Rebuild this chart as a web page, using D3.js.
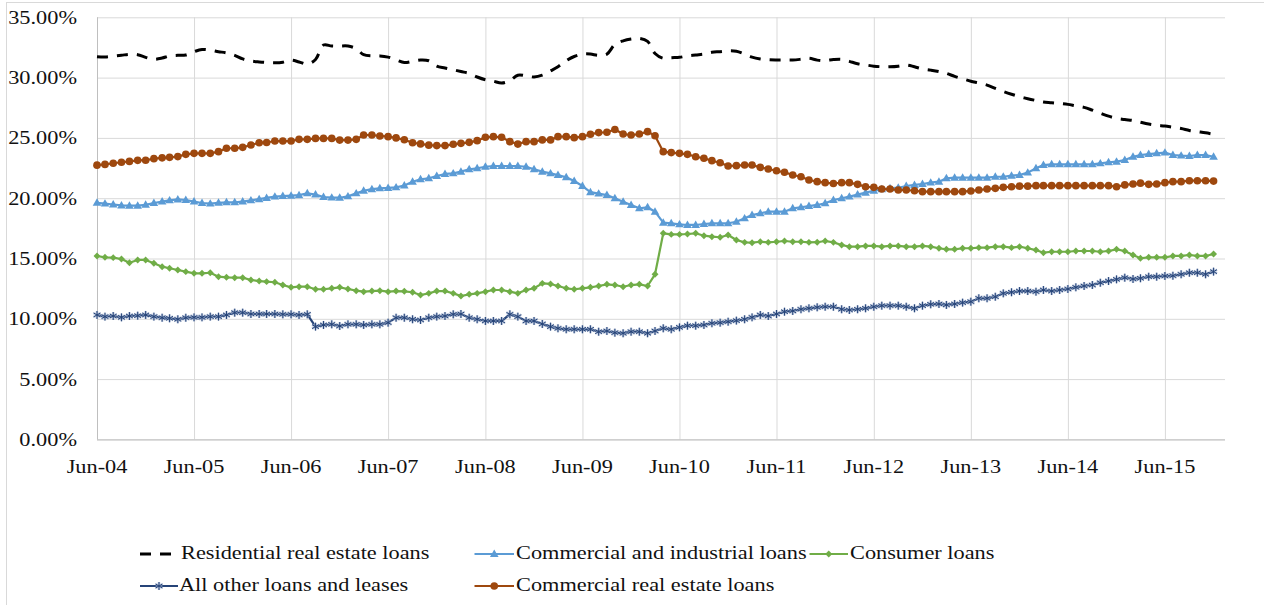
<!DOCTYPE html>
<html><head><meta charset="utf-8">
<script src="https://cdn.jsdelivr.net/npm/d3@7"></script>
<style>body{margin:0;background:#fff;}svg{display:block}</style>
</head><body>
<svg id="chart" width="1264" height="605"></svg>
<script>
// ---------- data (monthly, Jun-04 .. Dec-15, percent) ----------
const seriesNames = ["Residential real estate loans","Commercial and industrial loans","Consumer loans","All other loans and leases","Commercial real estate loans"];
const xTickLabels = ["Jun-04","Jun-05","Jun-06","Jun-07","Jun-08","Jun-09","Jun-10","Jun-11","Jun-12","Jun-13","Jun-14","Jun-15"];
const yTicks = [0,5,10,15,20,25,30,35];

const residential = [31.73,31.70,31.78,31.85,31.93,31.90,31.68,31.52,31.62,31.80,
31.85,31.88,32.15,32.33,32.28,32.15,32.05,31.85,31.55,31.38,
31.30,31.25,31.23,31.28,31.45,31.30,31.12,31.50,32.70,32.62,
32.62,32.62,32.40,31.90,31.80,31.80,31.70,31.48,31.25,31.35,
31.46,31.40,30.95,30.80,30.65,30.50,30.35,30.05,29.82,29.70,
29.55,29.75,30.20,30.15,30.05,30.20,30.55,30.90,31.40,31.75,
31.95,31.95,31.85,31.95,32.75,33.05,33.20,33.25,33.00,32.00,
31.60,31.65,31.68,31.80,31.88,31.95,32.10,32.15,32.22,32.18,
31.95,31.70,31.55,31.48,31.46,31.46,31.46,31.52,31.60,31.45,
31.40,31.50,31.52,31.35,31.15,31.05,30.95,30.90,30.90,30.95,
31.05,30.90,30.72,30.62,30.50,30.35,30.10,29.90,29.70,29.55,
29.38,29.10,28.85,28.62,28.42,28.25,28.10,27.98,27.92,27.85,
27.78,27.65,27.53,27.30,27.05,26.80,26.62,26.52,26.45,26.30,
26.15,26.05,25.98,25.88,25.78,25.62,25.52,25.42,25.30];

const commercialIndustrial = [19.62,19.55,19.48,19.40,19.38,19.38,19.45,19.60,19.72,19.82,
19.90,19.85,19.72,19.60,19.55,19.62,19.66,19.66,19.72,19.82,
19.92,20.02,20.13,20.18,20.21,20.25,20.41,20.30,20.10,20.05,
20.04,20.15,20.40,20.62,20.75,20.82,20.85,20.90,21.05,21.37,
21.57,21.65,21.84,22.01,22.06,22.20,22.40,22.48,22.61,22.67,
22.67,22.67,22.67,22.61,22.40,22.20,22.06,21.92,21.73,21.43,
21.01,20.50,20.38,20.26,20.00,19.71,19.44,19.16,19.25,18.88,
17.97,17.92,17.83,17.78,17.78,17.86,17.92,17.92,17.92,18.05,
18.33,18.60,18.75,18.88,18.88,18.88,19.16,19.25,19.35,19.44,
19.58,19.85,20.00,20.13,20.30,20.46,20.62,20.74,20.82,20.87,
21.01,21.10,21.18,21.29,21.37,21.65,21.70,21.70,21.70,21.70,
21.70,21.78,21.78,21.87,21.92,22.12,22.48,22.75,22.81,22.81,
22.81,22.81,22.81,22.81,22.89,22.98,23.03,23.17,23.44,23.58,
23.66,23.72,23.78,23.58,23.53,23.50,23.58,23.58,23.44];

const consumer = [15.21,15.10,15.07,14.96,14.65,14.88,14.88,14.60,14.32,14.19,
14.05,13.91,13.77,13.77,13.82,13.49,13.44,13.41,13.41,13.22,
13.13,13.08,13.03,12.80,12.61,12.66,12.66,12.45,12.45,12.53,
12.61,12.47,12.33,12.25,12.30,12.33,12.25,12.30,12.28,12.20,
11.97,12.11,12.30,12.30,12.11,11.89,12.03,12.11,12.25,12.39,
12.39,12.25,12.11,12.39,12.53,12.94,12.89,12.72,12.53,12.45,
12.53,12.61,12.72,12.86,12.80,12.66,12.80,12.86,12.72,13.69,
17.09,17.00,17.00,17.03,17.09,16.89,16.81,16.76,16.95,16.53,
16.34,16.31,16.39,16.34,16.39,16.45,16.39,16.39,16.34,16.35,
16.45,16.34,16.12,15.98,15.98,16.04,16.04,15.98,16.04,16.04,
15.98,15.98,16.04,15.98,15.85,15.76,15.76,15.85,15.85,15.90,
15.90,15.98,15.98,15.90,15.98,15.85,15.70,15.48,15.56,15.56,
15.56,15.62,15.62,15.62,15.56,15.62,15.76,15.62,15.29,15.02,
15.10,15.10,15.10,15.21,15.21,15.29,15.21,15.21,15.37];

const allOther = [10.32,10.18,10.23,10.12,10.23,10.26,10.32,10.18,10.09,10.04,
9.96,10.09,10.12,10.12,10.18,10.18,10.32,10.51,10.51,10.40,
10.40,10.40,10.40,10.37,10.37,10.32,10.37,9.35,9.49,9.54,
9.40,9.54,9.54,9.49,9.54,9.54,9.68,10.09,10.09,9.96,
9.90,10.09,10.18,10.23,10.37,10.40,10.09,9.96,9.82,9.82,
9.82,10.37,10.18,9.82,9.82,9.57,9.35,9.21,9.13,9.13,
9.13,9.13,8.93,8.99,8.85,8.80,8.93,8.93,8.80,8.99,
9.21,9.13,9.29,9.43,9.43,9.49,9.63,9.68,9.76,9.85,
9.96,10.12,10.32,10.23,10.40,10.59,10.65,10.79,10.87,10.95,
11.00,11.00,10.79,10.73,10.79,10.87,11.00,11.09,11.09,11.09,
11.00,10.87,11.09,11.20,11.23,11.15,11.23,11.34,11.42,11.70,
11.70,11.83,12.11,12.20,12.30,12.30,12.25,12.39,12.30,12.39,
12.47,12.61,12.72,12.80,12.99,13.13,13.27,13.41,13.30,13.36,
13.49,13.49,13.55,13.57,13.69,13.82,13.82,13.69,13.91];

const commercialRealEstate = [22.74,22.80,22.90,22.98,23.05,23.14,23.15,23.28,23.35,23.39,
23.45,23.64,23.72,23.72,23.72,23.86,24.14,24.14,24.22,24.41,
24.60,24.62,24.74,24.74,24.74,24.88,24.88,24.96,24.96,24.96,
24.82,24.82,24.88,25.24,25.24,25.16,25.10,25.00,24.85,24.60,
24.50,24.40,24.36,24.36,24.47,24.55,24.63,24.77,25.05,25.10,
25.05,24.69,24.49,24.69,24.69,24.83,24.83,25.10,25.10,25.02,
25.10,25.30,25.44,25.47,25.70,25.32,25.24,25.32,25.52,25.18,
23.86,23.78,23.72,23.64,23.44,23.31,23.11,22.94,22.67,22.70,
22.75,22.75,22.56,22.42,22.28,22.15,21.92,21.78,21.51,21.37,
21.29,21.22,21.29,21.29,21.15,20.95,20.90,20.76,20.76,20.68,
20.68,20.62,20.54,20.54,20.54,20.54,20.54,20.54,20.60,20.68,
20.76,20.82,20.90,20.95,21.00,21.00,21.04,21.04,21.04,21.04,
21.04,21.04,21.04,21.04,21.04,21.04,20.95,21.10,21.18,21.25,
21.15,21.18,21.29,21.37,21.37,21.45,21.45,21.45,21.42];

// ---------- chart ----------
const svg = d3.select("#chart");
const FONT = "Liberation Serif, Tinos, serif";
const SX = 1.24;            // horizontal text stretch seen in reference
const L = 97, R = 1225, T = 17.3, B = 439.4;

const months = d3.timeMonth.range(new Date(2004,5,1), new Date(2016,0,1));
const parseTick = d3.timeParse("%b-%y");
const tickDates = xTickLabels.map(parseTick);

const x = d3.scaleTime().domain([new Date(2004,5,1), new Date(2016,0,13)]).range([L, R]);
const y = d3.scaleLinear().domain([0,35]).range([B, T]);

// outer chart border
svg.append("rect").attr("x",6.5).attr("y",2.5).attr("width",1400).attr("height",900)
  .attr("fill","none").attr("stroke","#d9d9d9").attr("stroke-width",1);

// horizontal gridlines
const gy = svg.append("g").attr("transform",`translate(${L},0)`)
  .call(d3.axisLeft(y).tickValues(yTicks).tickSize(-(R-L)).tickFormat(""));
gy.select(".domain").remove();
gy.selectAll(".tick line").attr("stroke","#d9d9d9").attr("stroke-width",1);

// vertical gridlines
const gx = svg.append("g").attr("transform",`translate(0,${B})`)
  .call(d3.axisBottom(x).tickValues(tickDates).tickSize(-(B-T)).tickFormat(""));
gx.select(".domain").remove();
gx.selectAll(".tick line").attr("stroke","#d9d9d9").attr("stroke-width",1);

// axis lines
svg.append("line").attr("x1",L+0.5).attr("x2",L+0.5).attr("y1",T).attr("y2",B)
  .attr("stroke","#bfbfbf").attr("stroke-width",1);
svg.append("line").attr("x1",L).attr("x2",R).attr("y1",B+0.5).attr("y2",B+0.5)
  .attr("stroke","#bfbfbf").attr("stroke-width",1);

// y tick labels
const fmtPct = v => d3.format(".2f")(v) + "%";
svg.append("g").selectAll("text").data(yTicks).join("text")
  .attr("transform", d => `translate(77,${y(d)+6.5}) scale(${SX},1)`)
  .attr("text-anchor","end").style("font-family",FONT).style("font-size","18px")
  .attr("fill","#111").text(fmtPct);

// x tick labels
svg.append("g").selectAll("text").data(xTickLabels).join("text")
  .attr("transform", (d,i) => `translate(${x(tickDates[i])},472.5) scale(${SX},1)`)
  .attr("text-anchor","middle").style("font-family",FONT).style("font-size","18px")
  .attr("fill","#111").text(d => d);

// series styles
const styles = [
  {color:"#000000", width:3, dash:"11,9", smooth:true, marker:null},
  {color:"#5b9bd5", width:2.2, marker:"triangle"},
  {color:"#70ad47", width:2.2, marker:"diamond"},
  {color:"#264478", width:2.2, marker:"star"},
  {color:"#9e480e", width:2.2, marker:"circle"}
];
const seriesData = [residential, commercialIndustrial, consumer, allOther, commercialRealEstate];

function drawMarker(g, type, color, cx, cy){
  if(type==="triangle"){
    g.append("path").attr("d", d3.symbol(d3.symbolTriangle, 32)())
      .attr("transform",`translate(${cx},${cy+0.5})`).attr("fill",color);
  } else if(type==="diamond"){
    g.append("path").attr("d", d3.symbol(d3.symbolSquare, 24)())
      .attr("transform",`translate(${cx},${cy}) rotate(45)`).attr("fill",color);
  } else if(type==="circle"){
    g.append("path").attr("d", d3.symbol(d3.symbolCircle, 46)())
      .attr("transform",`translate(${cx},${cy})`).attr("fill",color);
  } else if(type==="star"){
    const p = d3.symbol(d3.symbolAsterisk, 44)();
    g.append("path").attr("d", p).attr("transform",`translate(${cx},${cy})`)
      .attr("fill","none").attr("stroke","#9fb0d0").attr("stroke-width",2.4).attr("stroke-opacity",0.7);
    g.append("path").attr("d", p).attr("transform",`translate(${cx},${cy})`)
      .attr("fill","none").attr("stroke",color).attr("stroke-width",1);
  }
}

seriesData.forEach((vals, si) => {
  const st = styles[si];
  const line = d3.line().x((d,i) => x(months[i])).y(d => y(d));
  if (st.smooth) line.curve(d3.curveCatmullRom.alpha(0.5));
  const g = svg.append("g");
  g.append("path").datum(vals).attr("d", line)
    .attr("fill","none").attr("stroke", st.color).attr("stroke-width", st.width)
    .attr("stroke-linejoin","round")
    .attr("stroke-dasharray", st.dash || null);
  if (st.marker) {
    vals.forEach((v,i) => drawMarker(g, st.marker, st.color, x(months[i]), y(v)));
  }
});

// legend
const legendPos = [
  {x1:140, x2:173, ty:559, tx:181, ly:554},
  {x1:474.5, x2:514, ty:559, tx:516, ly:554},
  {x1:809.5, x2:848, ty:559, tx:850, ly:554},
  {x1:140, x2:178, ty:591, tx:179, ly:586},
  {x1:474.5, x2:514, ty:591, tx:516, ly:586}
];
const lg = svg.append("g");
seriesNames.forEach((name, i) => {
  const p = legendPos[i], st = styles[i];
  lg.append("line").attr("x1",p.x1).attr("x2",p.x2).attr("y1",p.ly).attr("y2",p.ly)
    .attr("stroke",st.color).attr("stroke-width", st.dash ? 3 : 2.2)
    .attr("stroke-dasharray", st.dash || null);
  if (st.marker) drawMarker(lg, st.marker, st.color, (p.x1+p.x2)/2, p.ly);
  lg.append("text").attr("transform",`translate(${p.tx},${p.ty}) scale(${SX},1)`)
    .style("font-family",FONT).style("font-size","18px").attr("fill","#111").text(name);
});
</script>
</body></html>
